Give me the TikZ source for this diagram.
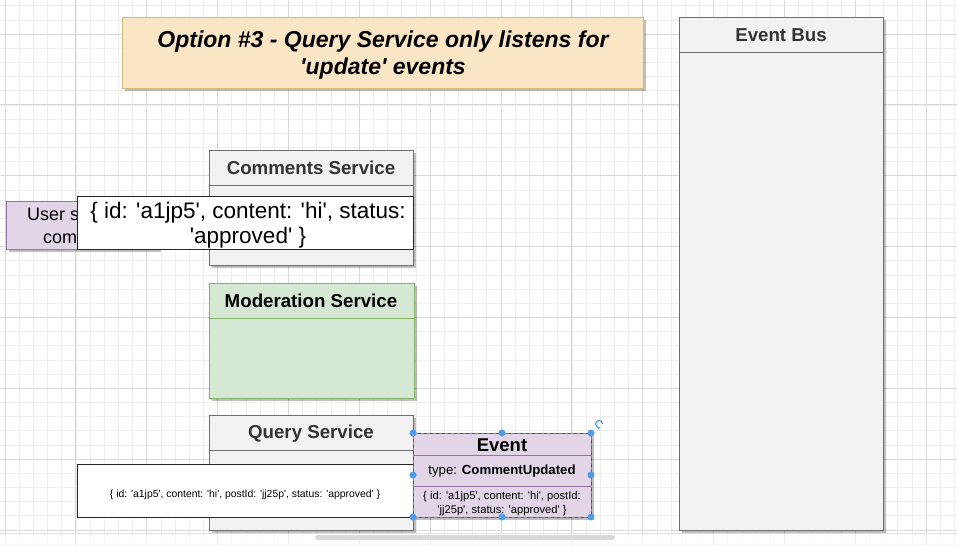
\documentclass[tikz,border=0pt]{standalone}
\usepackage{fontspec}
\setmainfont{Liberation Sans}
\usetikzlibrary{shadows,arrows.meta}
\newcommand\sq{\textquotesingle}
\definecolor{gridminor}{HTML}{EEEEEE}
\definecolor{gridmajor}{HTML}{D8D8D8}
\definecolor{titlefill}{HTML}{FAE5C5}
\definecolor{titleline}{HTML}{D9B97A}
\definecolor{svcfill}{HTML}{F2F2F2}
\definecolor{svcline}{HTML}{6E6E6E}
\definecolor{greenfill}{HTML}{D5E8D4}
\definecolor{greenline}{HTML}{82B366}
\definecolor{purpfill}{HTML}{E1D5E7}
\definecolor{purpline}{HTML}{9673A6}
\definecolor{handle}{HTML}{4F9DE8}
\definecolor{headtext}{HTML}{333333}
\tikzset{
  shad/.style={drop shadow={shadow xshift=2.5pt,shadow yshift=-2.5pt,opacity=0.25,fill=black}},
  boxbase/.style={draw,line width=1pt,inner sep=0pt,outer sep=0pt,anchor=north west},
  svcbox/.style={boxbase,fill=svcfill,draw=svcline,shad},
  greenbox/.style={boxbase,fill=greenfill,draw=greenline,shad},
  purpbox/.style={boxbase,fill=purpfill,draw=purpline,shad},
  whitebox/.style={boxbase,fill=white,draw=black!85},
  headlbl/.style={font=\fontsize{18.7}{22}\selectfont\bfseries,text=headtext,inner sep=0pt},
  hdl/.style={circle,fill=handle,inner sep=0pt,minimum size=7pt},
  usertxtstyle/.style={font=\fontsize{18}{23}\selectfont,inner sep=0pt,anchor=base west},
}
\begin{document}
\begin{tikzpicture}[x=1pt,y=-1pt]
\useasboundingbox (0,0) rectangle (957,546);
\fill[white] (0,0) rectangle (957,546);
% grid
\foreach \i in {0,...,70} {
  \draw[gridminor,line width=0.6pt] ({5+\i*14.17},0) -- ({5+\i*14.17},546);
}
\foreach \i in {-2,...,38} {
  \draw[gridminor,line width=0.6pt] (0,{34+\i*14.17}) -- (957,{34+\i*14.17});
}
\foreach \i in {0,...,13} {
  \draw[gridmajor,line width=0.8pt] ({5+\i*70.85},0) -- ({5+\i*70.85},546);
}
\foreach \i in {0,...,7} {
  \draw[gridmajor,line width=0.8pt] (0,{34+\i*70.85}) -- (957,{34+\i*70.85});
}
% bottom strip
\fill[white,opacity=0.6] (0,533) rectangle (957,546);
\draw[gray!25,line width=0.6pt] (0,533) -- (957,533);
\node[fill=black!15,rounded corners=3pt,minimum width=300pt,minimum height=5pt,inner sep=0pt] (scroll) at (465,537.5) {};

% title
\node[boxbase,fill=titlefill,draw=titleline,shad,minimum width=521pt,minimum height=71pt] (title) at (122,17) {};
\node[font=\fontsize{23}{27}\selectfont\bfseries\itshape,align=center,inner sep=0pt] (titletxt) at (383,55)
  {Option \#3 - Query Service only listens for\\\sq update\sq\ events};

% event bus
\node[svcbox,minimum width=204pt,minimum height=513pt] (bus) at (679,17) {};
\draw[svcline,line width=1pt] (bus.west |- 0,52) -- (bus.east |- 0,52);
\node[headlbl] (buslbl) at (781,35) {Event Bus};

% user box (partly hidden behind the data box)
\node[purpbox,minimum width=152pt,minimum height=48pt] (user) at (6,201) {};
\begin{scope}
\clip (0,190) rectangle (77,260);
\node[usertxtstyle] (usertxt1) at (27,220.5) {User s};
\node[usertxtstyle] (usertxt2) at (43,243.5) {com};
\end{scope}

% comments service
\node[svcbox,minimum width=204pt,minimum height=115pt] (cs) at (209,150) {};
\draw[svcline,line width=1pt] (cs.west |- 0,185) -- (cs.east |- 0,185);
\node[headlbl] (cslbl) at (311,168) {Comments Service};

% white data box top
\node[whitebox,minimum width=336pt,minimum height=53pt] (data1) at (77,196) {};
\node[font=\fontsize{22.5}{25}\selectfont,align=center,inner sep=0pt] (data1txt) at (248,225)
  {\{ id: \sq a1jp5\sq, content: \sq hi\sq, status:\\\sq approved\sq\ \}};

% moderation service
\node[greenbox,minimum width=205pt,minimum height=115pt] (ms) at (209,283) {};
\draw[greenline,line width=1pt] (ms.west |- 0,318) -- (ms.east |- 0,318);
\node[headlbl,text=black] (mslbl) at (311,301) {Moderation Service};

% query service
\node[svcbox,minimum width=204pt,minimum height=115pt] (qs) at (209,415) {};
\draw[svcline,line width=1pt] (qs.west |- 0,450) -- (qs.east |- 0,450);
\node[headlbl] (qslbl) at (311,433.5) {Query Service};

% white data box bottom
\node[whitebox,minimum width=336pt,minimum height=53pt] (data2) at (77,464) {};
\node[font=\fontsize{10.4}{12}\selectfont,inner sep=0pt] (data2txt) at (245,494.5)
  {\{ id: \sq a1jp5\sq, content: \sq hi\sq, postId: \sq jj25p\sq, status: \sq approved\sq\ \}};

% event box
\node[purpbox,minimum width=178pt,minimum height=84pt] (ev) at (413,433) {};
\draw[purpline,line width=0.8pt] (ev.west |- 0,455) -- (ev.east |- 0,455);
\draw[purpline,line width=0.8pt] (ev.west |- 0,486) -- (ev.east |- 0,486);
\draw[handle!60!black,dashed,line width=0.6pt] (ev.north west) rectangle (ev.south east);
\node[font=\fontsize{18.5}{20}\selectfont\bfseries,inner sep=0pt] (evlbl) at (502,445) {Event};
\node[font=\fontsize{13.2}{15}\selectfont,inner sep=0pt] (evtype) at (502,471.5) {type: \textbf{CommentUpdated}};
\node[font=\fontsize{11.2}{14}\selectfont,align=center,inner sep=0pt] (evbody) at (502,503.5)
  {\{ id: \sq a1jp5\sq, content: \sq hi\sq, postId:\\\sq jj25p\sq, status: \sq approved\sq\ \}};

% selection handles
\node[hdl] (h1) at (ev.north west) {};
\node[hdl] (h2) at (ev.north) {};
\node[hdl] (h3) at (ev.north east) {};
\node[hdl] (h4) at (ev.west) {};
\node[hdl] (h5) at (ev.east) {};
\node[hdl] (h6) at (ev.south west) {};
\node[hdl] (h7) at (ev.south) {};
\node[hdl] (h8) at (ev.south east) {};
\coordinate (rot) at (599,424);
\draw[handle,line width=1.2pt,-{Latex[length=2.5pt,width=3pt]}] ([shift={(3.5pt,0)}]rot) arc[start angle=0,end angle=290,radius=3.5pt];
\end{tikzpicture}
\end{document}
